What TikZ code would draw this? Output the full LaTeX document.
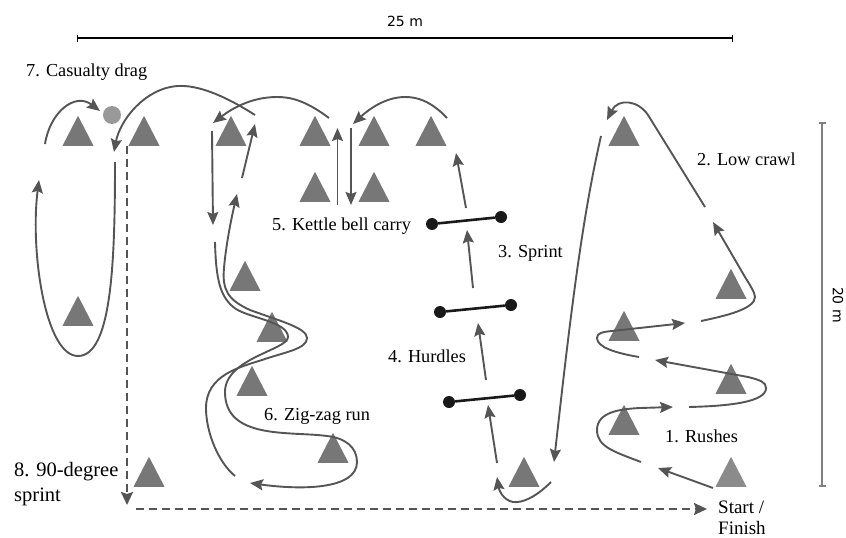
\documentclass[tikz,border=0pt]{standalone}
\usepackage{fontspec}
\setmainfont{Liberation Serif}
\newfontfamily\scalefont{DejaVu Sans}
\usetikzlibrary{arrows.meta,shapes.geometric}

\definecolor{conegray}{HTML}{777777}
\definecolor{routegray}{HTML}{555555}

\tikzset{
  cone/.style={isosceles triangle,isosceles triangle stretches,shape border rotate=90,
    minimum width=31pt,minimum height=30pt,inner sep=0pt,fill=conegray,anchor=lower side},
  routeline/.style={draw=routegray,line width=1.9pt,-{Stealth[length=13pt,width=11pt,inset=2pt]}},
  sprintline/.style={draw=routegray,line width=2pt,dash pattern=on 8pt off 5pt,-{Stealth[length=13pt,width=12pt,inset=2pt]}},
  hurdledot/.style={circle,fill=black!90,minimum size=12pt,inner sep=0pt},
  hurdlebar/.style={draw=black!90,line width=2.6pt},
  scalebar/.style={line width=1.1pt,{Bar[width=7pt]}-{Bar[width=7pt]}},
  label/.style={font=\fontsize{18.3}{22}\selectfont,align=left,inner sep=0pt,anchor=west},
  scalelabel/.style={font=\scalefont\fontsize{14}{16}\selectfont,inner sep=0pt}
}

\begin{document}
\begin{tikzpicture}[x=1pt,y=-1pt]
  \useasboundingbox (0,0) rectangle (846,538);

  % cones
  \begin{scope}[every node/.style={cone}]
    \node (c1)  at (78,146)  {};
    \node (c2)  at (144,146) {};
    \node (c3)  at (231,146) {};
    \node (c4)  at (315,146) {};
    \node (c5)  at (374,146) {};
    \node (c6)  at (431,146) {};
    \node (c7)  at (315,202) {};
    \node (c8)  at (374,202) {};
    \node (c9)  at (245,291) {};
    \node (c10) at (78,326)  {};
    \node (c11) at (272,342) {};
    \node (c12) at (252,396) {};
    \node (c13) at (333,463) {};
    \node (c14) at (149,487) {};
    \node (c15) at (524,487) {};
    \node (c16) at (624,146) {};
    \node (c17) at (731,299) {};
    \node (c18) at (624,341) {};
    \node (c19) at (731,394) {};
    \node (c20) at (624,435) {};
    \node[fill=conegray!85] (c21) at (731,487) {};
  \end{scope}

  \node[circle,fill=black!40,minimum size=18pt,inner sep=0pt] (casualty) at (112,115) {};

  % hurdles
  \node[hurdledot] (h1a) at (432,224) {};
  \node[hurdledot] (h1b) at (501,217) {};
  \node[hurdledot] (h2a) at (440,312) {};
  \node[hurdledot] (h2b) at (511,305) {};
  \node[hurdledot] (h3a) at (449,402) {};
  \node[hurdledot] (h3b) at (520,395) {};
  \draw[hurdlebar] (h1a) -- (h1b);
  \draw[hurdlebar] (h2a) -- (h2b);
  \draw[hurdlebar] (h3a) -- (h3b);

  % scale bars
  \coordinate (w1) at (77,38);
  \coordinate (w2) at (733,38);
  \coordinate (d1) at (822,122);
  \coordinate (d2) at (822,487);
  \draw[scalebar] (w1) -- (w2);
  \draw[scalebar,draw=black!50,line width=1.6pt] (d1) -- (d2);

  % rushes and low crawl
  \coordinate (r1) at (713,488);
  \coordinate (r2) at (658,468);
  \coordinate (r3) at (641,462);
  \coordinate (r4) at (673,407);
  \coordinate (r5) at (689,407);
  \coordinate (r6) at (655,360);
  \coordinate (r7) at (639,357);
  \coordinate (r8) at (685,323);
  \coordinate (l1) at (701,321);
  \coordinate (l2) at (713,222);
  \coordinate (l3) at (705,207);
  \coordinate (l4) at (607,120);
  \draw[routeline] (r1) -- (r2);
  \draw[routeline] (r3) .. controls (615,452) and (597,447) .. (597,430) .. controls (597,412) and (620,409) .. (640,408) -- (r4);
  \draw[routeline] (r5) .. controls (730,406) and (766,402) .. (766,388) .. controls (766,382) and (760,380) .. (748,377) -- (r6);
  \draw[routeline] (r7) .. controls (615,353) and (597,347) .. (597,338) .. controls (597,333) and (602,332) .. (612,331) -- (r8);
  \draw[routeline] (l1) .. controls (725,316) and (755,309) .. (755,297) .. controls (755,293) and (750,285) .. (745,277) -- (l2);
  \draw[routeline] (l3) -- (648,115) .. controls (638,100) and (618,98) .. (l4);

  % sprint and hurdles
  \coordinate (s1) at (601,136);
  \coordinate (s2) at (554,462);
  \coordinate (s3) at (551,482);
  \coordinate (s4) at (497,477);
  \coordinate (s5) at (497,463);
  \coordinate (s6) at (488,405);
  \coordinate (s7) at (486,380);
  \coordinate (s8) at (478,323);
  \coordinate (s9) at (473,288);
  \coordinate (s10) at (467,230);
  \coordinate (s11) at (466,208);
  \coordinate (s12) at (456,153);
  \draw[routeline] (s1) .. controls (583,215) and (572,300) .. (s2);
  \draw[routeline] (s3) .. controls (535,498) and (522,503) .. (513,502) .. controls (503,500) and (499,490) .. (s4);
  \draw[routeline] (s5) -- (s6);
  \draw[routeline] (s7) -- (s8);
  \draw[routeline] (s9) -- (s10);
  \draw[routeline] (s11) -- (s12);

  % kettle bell carry
  \coordinate (k1) at (447,118);
  \coordinate (k2) at (353,124);
  \coordinate (k3) at (337.5,205);
  \coordinate (k4) at (337.5,128);
  \coordinate (k5) at (351,128);
  \coordinate (k6) at (351,205);
  \coordinate (k7) at (329,118);
  \coordinate (k8) at (213,123);
  \draw[routeline] (k1) .. controls (430,100) and (416,97) .. (405,97) .. controls (385,97) and (368,110) .. (k2);
  \draw[routeline] (k3) -- (k4);
  \draw[routeline] (k5) -- (k6);
  \draw[routeline] (k7) .. controls (305,100) and (290,97) .. (277,97) .. controls (250,97) and (230,110) .. (k8);

  % zig-zag run
  \coordinate (z1) at (212,131);
  \coordinate (z2) at (213,225);
  \coordinate (z3) at (215,242);
  \coordinate (z4) at (250,483);
  \coordinate (z5) at (235,476);
  \coordinate (z6) at (237,194);
  \coordinate (z7) at (242,178);
  \coordinate (z8) at (255,124);
  \draw[routeline] (z1) -- (z2);
  \draw[routeline] (z3) .. controls (216,280) and (220,298) .. (236,309) .. controls (250,318) and (288,322) .. (288,337)
    .. controls (288,350) and (225,358) .. (225,392) .. controls (225,440) and (290,431) .. (327,436)
    .. controls (345,438) and (357,447) .. (357,462) .. controls (357,490) and (300,490) .. (z4);
  \draw[routeline] (z5) .. controls (218,462) and (206,432) .. (206,408) .. controls (206,375) and (240,367) .. (262,360)
    .. controls (285,352) and (307,349) .. (307,338) .. controls (307,328) and (280,321) .. (250,310)
    .. controls (228,300) and (222,290) .. (224,268) .. controls (226,245) and (231,220) .. (z6);
  \draw[routeline] (z7) -- (z8);

  % casualty drag
  \coordinate (y1) at (255,115);
  \coordinate (y2) at (114,152);
  \coordinate (y3) at (115,162);
  \coordinate (y4) at (39,180);
  \coordinate (y5) at (45,144);
  \coordinate (y6) at (100,111);
  \draw[routeline] (y1) .. controls (222,94) and (197,85) .. (178,86) .. controls (145,88) and (120,120) .. (y2);
  \draw[routeline] (y3) .. controls (115,260) and (112,356) .. (78,356) .. controls (45,356) and (30,250) .. (y4);
  \draw[routeline] (y5) .. controls (50,112) and (75,92) .. (y6);

  % 90-degree sprint
  \coordinate (f1) at (127,146);
  \coordinate (f2) at (127,505);
  \coordinate (f3) at (136,509);
  \coordinate (f4) at (707,509);
  \draw[sprintline] (f1) -- (f2);
  \draw[sprintline] (f3) -- (f4);

  % labels
  \node[scalelabel] (width) at (405,21) {25 m};
  \node[scalelabel,rotate=-90] (depth) at (838,305) {20 m};
  \node[label] (t1) at (665,436) {1. Rushes};
  \node[label] (t2) at (697,159) {2. Low crawl};
  \node[label] (t3) at (498,253) {3. Sprint};
  \node[label] (t4) at (388,356) {4. Hurdles};
  \node[label] (t5) at (272,226) {5. Kettle bell carry};
  \node[label] (t6) at (264,416) {6. Zig-zag run};
  \node[label] (t7) at (26,72) {7. Casualty drag};
  \node[label,font=\fontsize{20.5}{25}\selectfont] (t8) at (14,484) {8. 90-degree\\sprint};
  \node[label,font=\fontsize{19}{21}\selectfont] (t9) at (718,518) {Start /\\Finish};

\end{tikzpicture}
\end{document}
